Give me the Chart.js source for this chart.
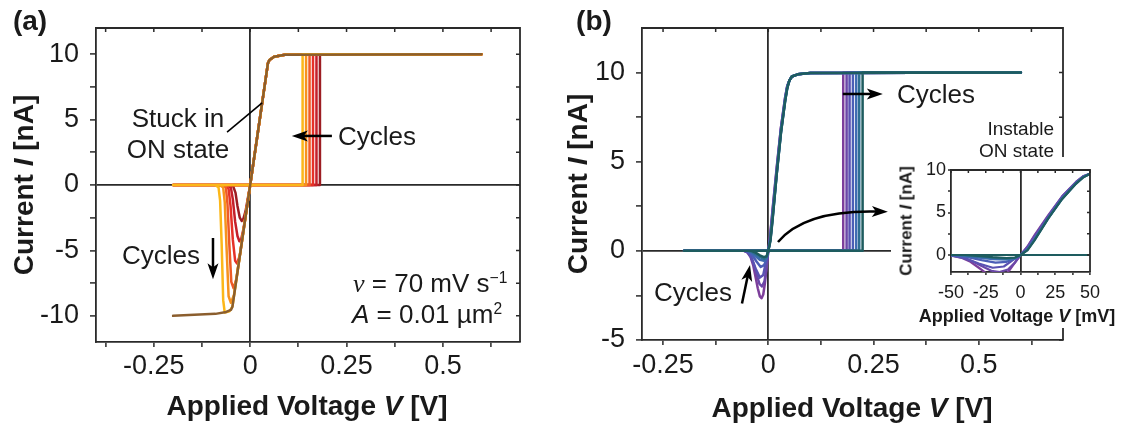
<!DOCTYPE html>
<html>
<head>
<meta charset="utf-8">
<script src="https://cdn.jsdelivr.net/npm/chart.js@4.4.1/dist/chart.umd.min.js"></script>
<style>
  html, body { margin: 0; padding: 0; background: #fff; }
  #wrap { position: relative; width: 1121px; height: 425px; overflow: hidden; background: #fff;
          font-family: 'Liberation Sans', Arial, sans-serif; color: #1a1a1a; }
  canvas { position: absolute; }
  .t { position: absolute; transform: translate(-50%, -50%); white-space: nowrap; line-height: 1; }
  .l { position: absolute; transform: translate(0, -50%); white-space: nowrap; line-height: 1; }
  .rt { position: absolute; transform: translate(-100%, -50%); white-space: nowrap; line-height: 1; text-align: right; }
  .b { font-weight: bold; }
  .rot { transform: translate(-50%, -50%) rotate(-90deg); }
  .nu { font-family: 'Liberation Serif', 'DejaVu Serif', serif; font-style: italic; }
  sup { font-size: 60%; vertical-align: 0; position: relative; top: -0.6em; }
</style>
</head>
<body>
<div id="wrap">
  <canvas id="chartA" width="560" height="425" style="left:0;top:0"></canvas>
  <canvas id="chartB" width="561" height="425" style="left:560px;top:0"></canvas>
  <canvas id="chartInset" width="230" height="171" style="left:891px;top:157px;background:#fff"></canvas>

  <div class="t b" style="left:30px;top:21px;font-size:28px">(a)</div>
  <div class="t b" style="left:594px;top:21px;font-size:28px">(b)</div>

  <div class="t b" style="left:307px;top:406px;font-size:28px">Applied Voltage <i>V</i> [V]</div>
  <div class="t b" style="left:852px;top:408px;font-size:28px">Applied Voltage <i>V</i> [V]</div>
  <div class="t b rot" style="left:24px;top:185px;font-size:28px">Current <i>I</i> [nA]</div>
  <div class="t b rot" style="left:578px;top:184px;font-size:28px">Current <i>I</i> [nA]</div>

  <div class="t" style="left:178px;top:118px;font-size:26px">Stuck in</div>
  <div class="t" style="left:178px;top:149px;font-size:26px">ON state</div>
  <div class="t" style="left:377px;top:136px;font-size:26px">Cycles</div>
  <div class="t" style="left:161px;top:255px;font-size:26px">Cycles</div>
  <div class="l" style="left:353px;top:283px;font-size:26px"><span class="nu">ν</span> = 70 mV s<sup>−1</sup></div>
  <div class="l" style="left:352px;top:314px;font-size:26px"><i>A</i> = 0.01 µm<sup>2</sup></div>

  <div class="t" style="left:936px;top:94px;font-size:26px">Cycles</div>
  <div class="t" style="left:693px;top:292px;font-size:26px">Cycles</div>
  <div class="rt" style="left:1054px;top:128px;font-size:19px">Instable</div>
  <div class="rt" style="left:1054px;top:150px;font-size:19px">ON state</div>

  <div class="t b" style="left:1017px;top:316px;font-size:18px">Applied Voltage <i>V</i> [mV]</div>
  <div class="t b rot" style="left:906px;top:221px;font-size:17px">Current <i>I</i> [nA]</div>
</div>

<script>
// ---------- data: voltages in V, currents in nA ----------
const sweepV = [-0.2, 0.6];          // sweep limits
const compliance = 10;               // current compliance (nA)

// Panel (a): SET voltages per cycle (first -> last)
const aSetV = [0.181, 0.172, 0.163, 0.154, 0.145, 0.136];
// Panel (a): ON-state return branch shared by all cycles
const aOnV = [0.6, 0.09, 0.062, 0.05, 0.046, 0];
const aOnI = [10, 9.95, 9.8, 9.55, 9.3, 0];
// Panel (a): RESET dips on the negative branch
const aDip1V = [-0.012, -0.018, -0.022, -0.027, -0.033, -0.038, -0.044, -0.055];
const aDip1I = [-2.0, -2.6, -2.75, -2.5, -1.6, -0.6, -0.1, 0];
const aDip2V = [-0.017, -0.023, -0.028, -0.033, -0.039, -0.045, -0.05, -0.06];
const aDip2I = [-3.3, -4.1, -4.3, -3.9, -2.8, -1.1, -0.2, 0];
const aDip3V = [-0.027, -0.034, -0.039, -0.045, -0.051, -0.056, -0.066];
const aDip3I = [-5.4, -6.0, -5.8, -4.2, -1.6, -0.3, 0];
const aDip4V = [-0.036, -0.043, -0.049, -0.054, -0.059, -0.063, -0.072];
const aDip4I = [-7.2, -7.9, -7.4, -4.6, -1.4, -0.2, 0];
const aDip5V = [-0.042, -0.05, -0.056, -0.061, -0.066, -0.07, -0.079];
const aDip5I = [-8.4, -9.0, -8.5, -5.0, -1.3, -0.2, 0];
const aDip6V = [-0.046, -0.054, -0.066, -0.07, -0.074, -0.078, -0.082, -0.09];
const aDip6I = [-9.3, -9.65, -9.75, -8.8, -4.5, -1.2, -0.2, 0];
// Panel (a): final sweep stuck in the ON state
const aStuckV = [0.6, 0.09, 0.062, 0.05, 0.046, 0, -0.046, -0.05, -0.062, -0.09, -0.2];
const aStuckI = [10, 9.95, 9.8, 9.55, 9.3, 0, -9.3, -9.55, -9.7, -9.85, -10];
const aColors = ['#9d1d22', '#c4202a', '#e53128', '#ef5a26', '#f6921e', '#fcb719'];
const aStuckColor = '#8b5e2e';

// Panel (b): SET voltages per cycle (first -> last)
const bSetV = [0.178, 0.186, 0.193, 0.201, 0.209, 0.216, 0.224];
// Panel (b): ON-state return branch (voltages shared, currents per cycle)
const bRiseV = [0.6, 0.1, 0.07, 0.056, 0.05, 0.045, 0.04, 0.03, 0.02, 0.01, 0.005, 0];
const bRise1I = [10, 9.97, 9.9, 9.78, 9.55, 9.25, 8.6, 6.9, 4.7, 2.3, 1.0, 0];
const bRise2I = [10, 9.97, 9.9, 9.78, 9.55, 9.25, 8.6, 6.9, 4.6, 2.2, 0.95, 0];
const bRise3I = [10, 9.97, 9.9, 9.78, 9.55, 9.2, 8.5, 6.8, 4.5, 2.0, 0.8, 0];
const bRise4I = [10, 9.97, 9.9, 9.78, 9.55, 9.2, 8.5, 6.7, 4.4, 1.9, 0.7, 0];
const bRise5I = [10, 9.97, 9.9, 9.78, 9.55, 9.15, 8.45, 6.65, 4.35, 1.8, 0.65, 0];
const bRise6I = [10, 9.97, 9.9, 9.78, 9.55, 9.15, 8.4, 6.6, 4.3, 1.75, 0.6, 0];
const bRise7I = [10, 9.97, 9.9, 9.78, 9.55, 9.1, 8.4, 6.6, 4.3, 1.7, 0.55, 0];
// Panel (b): RESET dips
const bDip1V = [-0.004, -0.008, -0.012, -0.016, -0.02, -0.025, -0.03, -0.036, -0.042, -0.05, -0.058];
const bDip1I = [-0.9, -1.8, -2.45, -2.65, -2.55, -2.1, -1.5, -0.8, -0.35, -0.08, 0];
const bDip2V = [-0.004, -0.009, -0.015, -0.021, -0.028, -0.035, -0.042, -0.05, -0.058];
const bDip2I = [-0.9, -1.7, -2.0, -1.85, -1.3, -0.7, -0.25, -0.05, 0];
const bDip3V = [-0.005, -0.012, -0.02, -0.03, -0.04, -0.048, -0.056];
const bDip3I = [-0.55, -1.35, -1.5, -1.0, -0.4, -0.1, 0];
const bDip4V = [-0.004, -0.01, -0.018, -0.028, -0.038, -0.048, -0.055];
const bDip4I = [-0.45, -0.8, -0.9, -0.6, -0.25, -0.05, 0];
const bDip5V = [-0.004, -0.01, -0.02, -0.03, -0.04, -0.05];
const bDip5I = [-0.4, -0.55, -0.5, -0.3, -0.1, 0];
const bDip6V = [-0.004, -0.01, -0.02, -0.03, -0.04, -0.048];
const bDip6I = [-0.35, -0.45, -0.35, -0.18, -0.05, 0];
const bDip7V = [-0.004, -0.01, -0.02, -0.03, -0.04];
const bDip7I = [-0.3, -0.35, -0.25, -0.1, 0];
const bColors = ['#7d3f9b', '#6b47a8', '#5a52b2', '#4b5eb6', '#3e6ab1', '#2e6f92', '#1e5c5f'];

// Tick values and labelled ticks
const aXTicks = [-0.375, -0.25, -0.125, 0, 0.125, 0.25, 0.375, 0.5, 0.625];
const aXLabels = [-0.25, 0, 0.25, 0.5];
const aYTicks = [-10, -7.5, -5, -2.5, 0, 2.5, 5, 7.5, 10];
const aYLabels = [-10, -5, 0, 5, 10];
const bXTicks = [-0.25, -0.125, 0, 0.125, 0.25, 0.375, 0.5, 0.625];
const bXLabels = [-0.25, 0, 0.25, 0.5];
const bYTicks = [-5, -2.5, 0, 2.5, 5, 7.5, 10];
const bYLabels = [-5, 0, 5, 10];
const insetXTicks = [-50, -37.5, -25, -12.5, 0, 12.5, 25, 37.5, 50];
const insetXLabels = [-50, -25, 0, 25, 50];
const insetYTicks = [0, 2.5, 5, 7.5, 10];
const insetYLabels = [0, 5, 10];

// ---------- helpers ----------
const FONT = "'Liberation Sans', Arial, sans-serif";
const INK = '#1a1a1a';
const AXIS = '#2a2a2a';

function toPoints(vs, is, k = 1) { return vs.map((v, j) => ({ x: v * k, y: is[j] })); }

// one full sweep: OFF branch, SET jump, ON return, RESET dip, back to the start
function cycle(setV, onV, onI, dipV, dipI) {
  const V = [sweepV[0], setV, setV].concat(onV, dipV, [sweepV[0]]);
  const I = [0, 0, compliance].concat(onI, dipI, [0]);
  return { V, I };
}

const aCycles = [
  cycle(aSetV[0], aOnV, aOnI, aDip1V, aDip1I),
  cycle(aSetV[1], aOnV, aOnI, aDip2V, aDip2I),
  cycle(aSetV[2], aOnV, aOnI, aDip3V, aDip3I),
  cycle(aSetV[3], aOnV, aOnI, aDip4V, aDip4I),
  cycle(aSetV[4], aOnV, aOnI, aDip5V, aDip5I),
  cycle(aSetV[5], aOnV, aOnI, aDip6V, aDip6I),
];
const bRises = [bRise1I, bRise2I, bRise3I, bRise4I, bRise5I, bRise6I, bRise7I];
const bDipsV = [bDip1V, bDip2V, bDip3V, bDip4V, bDip5V, bDip6V, bDip7V];
const bDipsI = [bDip1I, bDip2I, bDip3I, bDip4I, bDip5I, bDip6I, bDip7I];
const bCycles = bSetV.map((s, j) => cycle(s, bRiseV, bRises[j], bDipsV[j], bDipsI[j]));

function lineDs(c, color, order, k = 1, width = 2.5) {
  return {
    data: toPoints(c.V, c.I, k), showLine: true, borderColor: color, backgroundColor: color,
    borderWidth: width, pointRadius: 0, tension: 0, fill: false, order,
    borderJoinStyle: 'round', borderCapStyle: 'round'
  };
}

function axis(o) {
  return {
    type: 'linear', position: o.pos, min: o.min, max: o.max,
    afterBuildTicks: s => { s.ticks = o.ticks.map(v => ({ value: v })); },
    afterFit: s => { if (o.pos === 'left') s.width = o.size; else s.height = o.size; },
    ticks: {
      autoSkip: false, maxRotation: 0, minRotation: 0, padding: o.pad, color: INK,
      font: { family: FONT, size: o.font },
      callback: v => (o.labels.includes(v) ? String(v) : '')
    },
    grid: {
      drawOnChartArea: true, drawTicks: true,
      color: c => (c.tick && c.tick.value === 0 ? AXIS : 'rgba(0,0,0,0)'),
      lineWidth: 1.8, tickLength: o.tl, tickColor: AXIS, tickWidth: 1.5
    },
    border: { display: true, color: AXIS, width: 1.8 }
  };
}

// top and right frame with inward ticks
const framePlugin = {
  id: 'frame',
  afterDatasetsDraw(chart, args, opts) {
    const { ctx, chartArea: { left, right, top, bottom }, scales: { x, y } } = chart;
    ctx.save();
    ctx.strokeStyle = AXIS;
    ctx.lineWidth = 1.8;
    ctx.beginPath();
    ctx.moveTo(left, top); ctx.lineTo(right, top); ctx.lineTo(right, bottom);
    ctx.stroke();
    ctx.lineWidth = 1.5;
    ctx.beginPath();
    x.ticks.forEach(t => { const p = x.getPixelForValue(t.value); ctx.moveTo(p, top); ctx.lineTo(p, top + opts.tick); });
    y.ticks.forEach(t => { const p = y.getPixelForValue(t.value); ctx.moveTo(right, p); ctx.lineTo(right - opts.tick, p); });
    ctx.stroke();
    ctx.restore();
  }
};

// arrows and pointer lines given in data coordinates
const marksPlugin = {
  id: 'marks',
  afterDatasetsDraw(chart, args, opts) {
    const { ctx, scales: { x, y } } = chart;
    const P = p => [x.getPixelForValue(p[0]), y.getPixelForValue(p[1])];
    (opts.items || []).forEach(it => {
      const a = P(it.from), b = P(it.to);
      ctx.save();
      ctx.strokeStyle = '#000'; ctx.fillStyle = '#000';
      ctx.lineWidth = it.width || 2.5; ctx.lineCap = 'butt';
      let dx, dy;
      if (it.ctrl) { const c = P(it.ctrl); dx = b[0] - c[0]; dy = b[1] - c[1]; }
      else { dx = b[0] - a[0]; dy = b[1] - a[1]; }
      const len = Math.hypot(dx, dy); const ux = dx / len, uy = dy / len;
      const hl = it.head ? 16 : 0, hw = 5.5;
      const e = [b[0] - ux * hl * 0.7, b[1] - uy * hl * 0.7];
      ctx.beginPath(); ctx.moveTo(a[0], a[1]);
      if (it.ctrl) { const c = P(it.ctrl); ctx.quadraticCurveTo(c[0], c[1], e[0], e[1]); }
      else ctx.lineTo(e[0], e[1]);
      ctx.stroke();
      if (it.head) {
        ctx.beginPath();
        ctx.moveTo(b[0], b[1]);
        ctx.lineTo(b[0] - ux * hl - uy * hw, b[1] - uy * hl + ux * hw);
        ctx.lineTo(b[0] - ux * hl * 0.75, b[1] - uy * hl * 0.75);
        ctx.lineTo(b[0] - ux * hl + uy * hw, b[1] - uy * hl - ux * hw);
        ctx.closePath(); ctx.fill();
      }
      ctx.restore();
    });
  }
};

function baseOptions(pad, scales, marks, tick) {
  return {
    responsive: false, animation: false, devicePixelRatio: 1,
    layout: { padding: pad },
    plugins: { legend: { display: false }, tooltip: { enabled: false },
               frame: { tick }, marks: { items: marks } },
    scales
  };
}

// ---------- panel (a) ----------
const aDatasets = aCycles.map((c, j) => lineDs(c, aColors[j], aCycles.length - j));
aDatasets.push(lineDs({ V: aStuckV, I: aStuckI }, aStuckColor, 0));
new Chart(document.getElementById('chartA'), {
  type: 'scatter',
  data: { datasets: aDatasets },
  options: baseOptions({ left: 0, right: 40, top: 28, bottom: 0 }, {
    x: axis({ pos: 'bottom', min: -0.4, max: 0.7, ticks: aXTicks, labels: aXLabels, size: 83, tl: 5, pad: 3, font: 27 }),
    y: axis({ pos: 'left', min: -12, max: 12, ticks: aYTicks, labels: aYLabels, size: 96, tl: 6, pad: 11, font: 27 })
  }, [
    { from: [-0.06, 4.05], to: [0.031, 6.27], width: 1.6 },
    { from: [0.212, 3.75], to: [0.108, 3.75], head: true },
    { from: [-0.0965, -4.05], to: [-0.0965, -7.2], head: true }
  ], 4),
  plugins: [framePlugin, marksPlugin]
});

// ---------- panel (b) ----------
const bDatasets = bCycles.map((c, j) => lineDs(c, bColors[j], bCycles.length - 1 - j));
new Chart(document.getElementById('chartB'), {
  type: 'scatter',
  data: { datasets: bDatasets },
  options: baseOptions({ left: 0, right: 58, top: 28, bottom: 0 }, {
    x: axis({ pos: 'bottom', min: -0.3, max: 0.7, ticks: bXTicks, labels: bXLabels, size: 85, tl: 5, pad: 4, font: 27 }),
    y: axis({ pos: 'left', min: -5, max: 12.5, ticks: bYTicks, labels: bYLabels, size: 82, tl: 6, pad: 11, font: 27 })
  }, [
    { from: [0.177, 8.8], to: [0.272, 8.8], head: true },
    { from: [0.023, 0.5], ctrl: [0.087, 2.3], to: [0.284, 2.19], head: true },
    { from: [-0.0625, -2.95], to: [-0.0434, -0.8], head: true }
  ], 4),
  plugins: [framePlugin, marksPlugin]
});

// ---------- inset (same sweeps, in mV) ----------
const insetDatasets = bCycles.map((c, j) => lineDs(c, bColors[j], bCycles.length - 1 - j, 1000, 2.2));
new Chart(document.getElementById('chartInset'), {
  type: 'scatter',
  data: { datasets: insetDatasets },
  options: baseOptions({ left: 0, right: 31, top: 13, bottom: 0 }, {
    x: axis({ pos: 'bottom', min: -50, max: 50, ticks: insetXTicks, labels: insetXLabels, size: 56, tl: 3, pad: 7, font: 18 }),
    y: axis({ pos: 'left', min: -2, max: 10, ticks: insetYTicks, labels: insetYLabels, size: 60, tl: 3, pad: 2, font: 18 })
  }, [], 3),
  plugins: [framePlugin, marksPlugin]
});
</script>
</body>
</html>
